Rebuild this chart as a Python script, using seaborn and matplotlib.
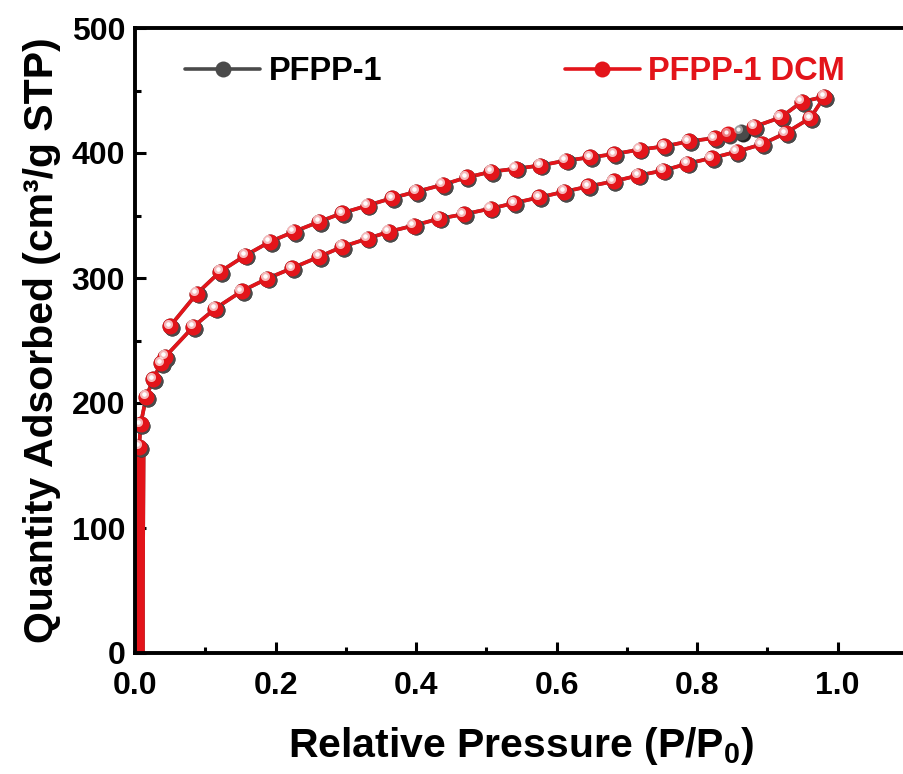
import matplotlib
matplotlib.use("Agg")
import matplotlib.pyplot as plt
import matplotlib.transforms as mtransforms
from matplotlib.lines import Line2D
from matplotlib.ticker import MultipleLocator
import pandas as pd
import seaborn as sns

# Low pressure rise (dense points near P/P0 = 0)
lowp_x = [0.007, 0.007, 0.0075, 0.008]
lowp_y = [0, 55, 115, 165]

# PFPP-1 DCM adsorption branch
dcm_ads_x = [0.006, 0.008, 0.016, 0.026, 0.037, 0.043, 0.083, 0.114, 0.152, 0.188,
             0.224, 0.262, 0.295, 0.331, 0.361, 0.397, 0.433, 0.468, 0.506, 0.540,
             0.575, 0.611, 0.645, 0.681, 0.716, 0.752, 0.786, 0.821, 0.856, 0.892,
             0.926, 0.961, 0.981]
dcm_ads_y = [165, 183, 205, 219, 232, 237, 261, 275.5, 289.5, 299.5,
             308, 317, 325, 331.5, 337, 342, 347.5, 351, 355.5, 360,
             364.5, 369, 373.3, 377.3, 382, 386, 391.5, 396, 401, 407,
             416, 428, 445]

# PFPP-1 DCM desorption branch
dcm_des_x = [0.949, 0.919, 0.881, 0.844, 0.825, 0.788, 0.753, 0.718, 0.682, 0.648,
             0.613, 0.577, 0.542, 0.507, 0.472, 0.438, 0.400, 0.366, 0.331, 0.295,
             0.262, 0.226, 0.192, 0.157, 0.121, 0.088, 0.050]
dcm_des_y = [441, 428.5, 421, 415, 412, 409.3, 405.3, 402.7, 399.2, 396.5,
             394, 390, 387.5, 385, 380.5, 374.6, 369, 364, 358, 352,
             345, 337, 329, 318, 305, 287.5, 261.5]

# PFPP-1 (nearly identical, hidden under DCM)
p1_ads_x = dcm_ads_x
p1_ads_y = dcm_ads_y
p1_des_x = [0.949, 0.919, 0.881, 0.862, 0.825, 0.788, 0.753, 0.718, 0.682, 0.648,
            0.613, 0.577, 0.542, 0.507, 0.472, 0.438, 0.400, 0.366, 0.331, 0.295,
            0.262, 0.226, 0.192, 0.157, 0.121, 0.088, 0.050]
p1_des_y = [441, 428.5, 421, 417, 412, 409.3, 405.3, 402.7, 399.2, 396.5,
            394, 390, 387.5, 385, 380.5, 374.6, 369, 364, 358, 352,
            345, 337, 329, 318, 305, 287.5, 261.5]

labels = ["PFPP-1", "PFPP-1 DCM"]
RED = "#e3141a"
GRAY = "#4a4a4a"

sns.set_style("ticks")
plt.rcParams["font.family"] = ["Liberation Sans", "DejaVu Sans"]
plt.rcParams["font.weight"] = "bold"
plt.rcParams["text.color"] = "black"
plt.rcParams["axes.labelcolor"] = "black"
plt.rcParams["axes.edgecolor"] = "black"
plt.rcParams["xtick.color"] = "black"
plt.rcParams["ytick.color"] = "black"
plt.rcParams["mathtext.fontset"] = "custom"
plt.rcParams["mathtext.rm"] = "Liberation Sans:bold"
plt.rcParams["mathtext.bf"] = "Liberation Sans:bold"
plt.rcParams["mathtext.default"] = "bf"

fig = plt.figure(figsize=(9.04, 7.74), dpi=100)
ax = fig.add_axes([135 / 904, 121 / 774, 773 / 904, 625 / 774])

MS = 11.5


def draw_loop(ads_x, ads_y, des_x, des_y, color, shade):
    df = pd.DataFrame({"x": ads_x + des_x, "y": ads_y + des_y})
    sns.lineplot(data=df, x="x", y="y", sort=False, estimator=None, color=color,
                 linewidth=2.6, ax=ax, zorder=2)
    # thick band of densely packed low-pressure points
    ax.plot(lowp_x, lowp_y, color=color, lw=7, solid_capstyle="round", zorder=2)
    # sphere look: shadow, body, highlight
    sh = mtransforms.offset_copy(ax.transData, fig=fig, x=1.8, y=-1.8, units="dots")
    hl = mtransforms.offset_copy(ax.transData, fig=fig, x=-2.5, y=2.5, units="dots")
    ax.plot(df["x"], df["y"], "o", ms=MS, color=shade, mew=0, transform=sh, zorder=3)
    ax.plot(df["x"], df["y"], "o", ms=MS, color=color, mew=0, zorder=4)
    ax.plot(df["x"], df["y"], "o", ms=6.5, color="white", alpha=0.45, mew=0,
            transform=hl, zorder=5)
    ax.plot(df["x"], df["y"], "o", ms=3, color="white", alpha=0.9, mew=0,
            transform=hl, zorder=6)


draw_loop(p1_ads_x, p1_ads_y, p1_des_x, p1_des_y, GRAY, "#222222")
draw_loop(dcm_ads_x, dcm_ads_y, dcm_des_x, dcm_des_y, RED, "#4a4a4a")

ax.set_xlim(0, 1.1)
ax.set_ylim(0, 500)
ax.xaxis.set_minor_locator(MultipleLocator(0.1))
ax.yaxis.set_major_locator(MultipleLocator(100))
ax.yaxis.set_minor_locator(MultipleLocator(50))
ax.set_xticks([0, 0.2, 0.4, 0.6, 0.8, 1.0])
ax.set_xticklabels(["0.0", "0.2", "0.4", "0.6", "0.8", "1.0"])
ax.tick_params(which="both", direction="in", width=2.2, labelsize=23, pad=7,
               top=False, right=False)
ax.tick_params(axis="x", pad=13)
ax.tick_params(which="major", length=8)
ax.tick_params(which="minor", length=4)
for s in ax.spines.values():
    s.set_linewidth(2.8)
    s.set_visible(True)
    s.set_zorder(6)

ax.set_xlabel("Relative Pressure (P/P$_0$)", fontsize=29.5, fontweight="bold", labelpad=17)
ax.set_ylabel("Quantity Adsorbed (cm³/g STP)", fontsize=29.5, fontweight="bold", labelpad=8)

handles = [
    Line2D([0], [0], color=GRAY, lw=2.6, marker="o", ms=MS, mew=0),
    Line2D([0], [0], color=RED, lw=2.6, marker="o", ms=MS, mew=0),
]
leg = ax.legend(handles, labels, ncol=2, loc="center left", bbox_to_anchor=(0.065, 0.93),
                frameon=False, fontsize=23.5, handlelength=2.3, handletextpad=0.25,
                columnspacing=5.6, borderpad=0, borderaxespad=0)
leg.get_texts()[0].set_color("black")
leg.get_texts()[1].set_color(RED)
for t in leg.get_texts():
    t.set_fontweight("bold")

fig.savefig("out.png", dpi=100)
